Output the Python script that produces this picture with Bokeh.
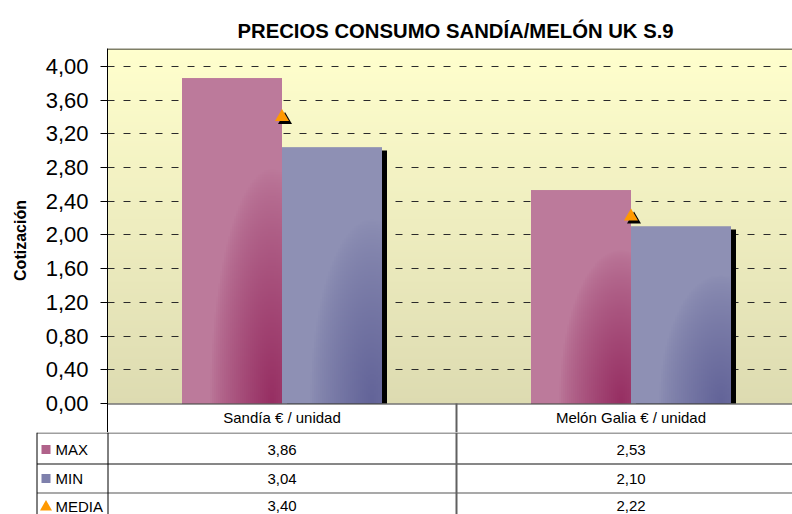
import numpy as np
from bokeh.plotting import figure
from bokeh.models import Range1d, FixedTicker, Span
from bokeh.core.properties import value
from bokeh.embed import file_html
from bokeh.resources import INLINE

# ---------------- data ----------------
chart_title = "PRECIOS CONSUMO SANDÍA/MELÓN  UK S.9"
y_axis_label = "Cotización"
categories = ["Sandía € / unidad", "Melón Galia € / unidad"]
series_names = ["MAX", "MIN", "MEDIA"]
max_vals = [3.86, 2.53]
min_vals = [3.04, 2.10]
media_vals = [3.40, 2.22]
y_ticks = [0.0, 0.4, 0.8, 1.2, 1.6, 2.0, 2.4, 2.8, 3.2, 3.6, 4.0]
y_tick_labels = ["0,00", "0,40", "0,80", "1,20", "1,60", "2,00",
                 "2,40", "2,80", "3,20", "3,60", "4,00"]

# ---------------- layout constants ----------------
FONT = "Liberation Sans"
W = 792
BORDER_L = 107
BORDER_T = 48
H_A = 432
H_B = 82
CAT_PX = 349.0
XMAX = (W - BORDER_L) / CAT_PX
PX_Y = 84.24
YTOP = 4.0 + 18.0 / PX_Y
Y0 = -(H_A - 403) / PX_Y
BW = 100.0 / CAT_PX


def px2x(px):
    return (px - BORDER_L) / CAT_PX


def grad_img(light, dark, w=50, h=200):
    xs = (np.arange(w) + 0.5) / w
    ys = (np.arange(h) + 0.5) / h
    X, Y = np.meshgrid(xs, ys)
    d = np.sqrt(((X - 0.9) / 0.62) ** 2 + (Y / 0.72) ** 2)
    t = np.clip(1 - d, 0, 1) ** 0.75
    img = np.empty((h, w, 4), dtype=np.uint8)
    for k in range(3):
        img[..., k] = np.round(light[k] + (dark[k] - light[k]) * t)
    img[..., 3] = 255
    return img.view(np.uint32).reshape(h, w)


def vgrad(bottom, top, h=200):
    t = (np.arange(h) + 0.5) / h
    img = np.empty((h, 2, 4), dtype=np.uint8)
    for k in range(3):
        img[:, :, k] = np.round(bottom[k] + (top[k] - bottom[k]) * t)[:, None]
    img[..., 3] = 255
    return img.view(np.uint32).reshape(h, 2)


MAX_LIGHT, MAX_DARK = (188, 122, 155), (150, 46, 98)
MIN_LIGHT, MIN_DARK = (142, 144, 180), (98, 99, 152)

# ---------------- chart figure ----------------
pa = figure(width=W, height=H_A, x_range=Range1d(0, XMAX), y_range=Range1d(Y0, YTOP),
            output_backend="svg", toolbar_location=None, x_axis_location=None,
            min_border_left=BORDER_L, min_border_right=0, min_border_top=BORDER_T,
            min_border_bottom=0)
pa.outline_line_color = None
pa.background_fill_color = "white"
pa.border_fill_color = "white"
pa.xgrid.visible = False

pa.title.text = chart_title
pa.title.align = "left"
pa.title.offset = 130
pa.title.text_font = FONT
pa.title.text_font_size = "20.3px"
pa.title.text_font_style = "bold"
pa.title.text_color = "black"
pa.title.standoff = 14

bg = pa.image_rgba(image=[vgrad((221, 219, 177), (255, 255, 205))], x=0, y=0, dw=XMAX, dh=YTOP)
bg.level = "image"

pa.ygrid.ticker = FixedTicker(ticks=y_ticks[1:])
pa.ygrid.grid_line_color = "#2a2a2a"
pa.ygrid.grid_line_dash = "7 9"
pa.ygrid.grid_line_width = 1

ax = pa.yaxis[0]
ax.ticker = FixedTicker(ticks=y_ticks)
ax.major_label_overrides = dict(zip(y_ticks, y_tick_labels))
ax.axis_line_color = "black"
ax.major_tick_line_color = "black"
ax.major_tick_out = 7
ax.major_tick_in = 0
ax.minor_tick_line_color = None
ax.major_label_standoff = 12
ax.major_label_text_font = FONT
ax.major_label_text_font_size = "22px"
ax.major_label_text_color = "black"
ax.axis_label = y_axis_label
ax.axis_label_text_font = FONT
ax.axis_label_text_font_size = "16px"
ax.axis_label_text_font_style = "bold"
ax.axis_label_text_color = "black"
ax.axis_label_standoff = 14

centers = [i + 0.5 for i in range(len(categories))]
max_x = [c - BW / 2 for c in centers]
min_x = [c + BW / 2 for c in centers]

# MIN shadow
dxs, dys = 5.0 / CAT_PX, 3.0 / PX_Y
pa.vbar(x=[x + dxs for x in min_x], top=[v - dys for v in min_vals], bottom=0,
        width=BW, fill_color="black", line_color=None)

# MAX bars
pa.vbar(x=max_x, top=max_vals, width=BW, fill_color="#B06890", line_color=None)
pa.image_rgba(image=[grad_img(MAX_LIGHT, MAX_DARK) for _ in max_vals],
              x=[x - BW / 2 for x in max_x], y=[0] * len(max_vals),
              dw=[BW] * len(max_vals), dh=max_vals)
# MIN bars
pa.vbar(x=min_x, top=min_vals, width=BW, fill_color="#8084AC", line_color=None)
pa.image_rgba(image=[grad_img(MIN_LIGHT, MIN_DARK) for _ in min_vals],
              x=[x - BW / 2 for x in min_x], y=[0] * len(min_vals),
              dw=[BW] * len(min_vals), dh=min_vals)

# MEDIA markers with shadow
pa.scatter(x=[c + 3.0 / CAT_PX for c in centers], y=[v - 3.0 / PX_Y for v in media_vals],
           marker="triangle", size=14, fill_color="black", line_color=None)
pa.scatter(x=centers, y=media_vals, marker="triangle", size=14,
           fill_color="#FF9900", line_color=None)

# frame top border
pa.add_layout(Span(location=YTOP - 0.5 / PX_Y, dimension="width", line_color="black", line_width=1))
# zero line and category header row
pa.segment(x0=[0], y0=[-0.5 / PX_Y], x1=[XMAX], y1=[-0.5 / PX_Y], line_color="#303030", line_width=1.2)
pa.segment(x0=[1.0], y0=[0], x1=[1.0], y1=[Y0], line_color="#606060", line_width=2)

txt = dict(text_font=value(FONT), text_font_size="15px", text_color="black",
           text_baseline="middle")
pa.text(x=centers, y=[-(417.5 - 403) / PX_Y] * len(categories), text=categories,
        text_align="center", **txt)

# ---------------- table figure ----------------
pb = figure(width=W, height=H_B, x_range=Range1d(px2x(0), XMAX), y_range=Range1d(H_B, 0),
            output_backend="svg", toolbar_location=None, x_axis_location=None,
            y_axis_location=None, min_border=0)
pb.outline_line_color = None
pb.grid.visible = False
pb.background_fill_color = "white"
pb.border_fill_color = "white"

row_top = [0.5, 31.5, 60.5]
row_mid = [17.0, 46.0, 73.5]
XL = px2x(36.5)
pb.segment(x0=[XL] * 3, y0=row_top, x1=[XMAX] * 3, y1=row_top,
           line_color=["#404040", "#111111", "#555555"], line_width=1.2)
pb.segment(x0=[XL, px2x(107.5)], y0=[0, 0], x1=[XL, px2x(107.5)], y1=[H_B, H_B],
           line_color="black", line_width=1)
pb.segment(x0=[1.0], y0=[0], x1=[1.0], y1=[H_B], line_color="#606060", line_width=2)

fmt = lambda v: f"{v:.2f}".replace(".", ",")
for r, vals in enumerate([max_vals, min_vals, media_vals]):
    pb.text(x=centers, y=[row_mid[r]] * len(vals), text=[fmt(v) for v in vals],
            text_align="center", **txt)

pb.text(x=[px2x(55)] * 3, y=row_mid, text=series_names, text_align="left", **txt)
pb.scatter(x=[px2x(45.5)] * 2, y=row_mid[:2], marker="square", size=9,
           fill_color=["#B0628A", "#7E80AC"], line_color=None)
pb.scatter(x=[px2x(45.5)], y=[row_mid[2] + 1], marker="triangle", size=12,
           fill_color="#FF9900", line_color=None)

open("out.html", "w").write(file_html([pa, pb], INLINE))
